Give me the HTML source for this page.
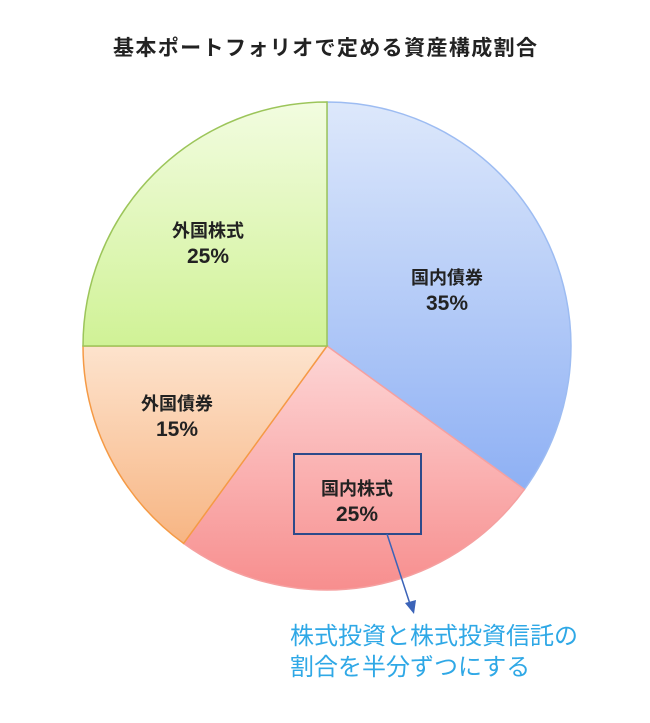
<!DOCTYPE html>
<html><head><meta charset="utf-8"><style>
body{margin:0;background:#fff;width:650px;height:718px;overflow:hidden}
</style></head><body>
<svg width="650" height="718" xmlns="http://www.w3.org/2000/svg" font-family="'Liberation Sans','Noto Sans CJK JP',sans-serif">
<defs>
<linearGradient id="gb" x1="0" y1="0" x2="0" y2="1"><stop offset="0" stop-color="#dde8fb"/><stop offset="1" stop-color="#8eb0f4"/></linearGradient>
<linearGradient id="gp" x1="0" y1="0" x2="0" y2="1"><stop offset="0" stop-color="#fdd6d6"/><stop offset="1" stop-color="#f78e8e"/></linearGradient>
<linearGradient id="go" x1="0" y1="0" x2="0" y2="1"><stop offset="0" stop-color="#fde3cd"/><stop offset="1" stop-color="#f7b583"/></linearGradient>
<linearGradient id="gg" x1="0" y1="0" x2="0" y2="1"><stop offset="0" stop-color="#f2fce0"/><stop offset="1" stop-color="#d0f296"/></linearGradient>
</defs>
<text x="325" y="55" text-anchor="middle" font-size="21" font-weight="bold" fill="#222" textLength="424">基本ポートフォリオで定める資産構成割合</text>
<path d="M327,346 L327,102 A244,244 0 0 1 524.4,489.4 Z" fill="url(#gb)" stroke="#9dbcf2" stroke-width="1.5"/>
<path d="M327,346 L524.4,489.4 A244,244 0 0 1 183.6,543.4 Z" fill="url(#gp)" stroke="#f5a0a0" stroke-width="1.5"/>
<path d="M327,346 L183.6,543.4 A244,244 0 0 1 83,346 Z" fill="url(#go)" stroke="#f59a45" stroke-width="1.5"/>
<path d="M327,346 L83,346 A244,244 0 0 1 327,102 Z" fill="url(#gg)" stroke="#9cc55a" stroke-width="1.5"/>
<g font-size="18" font-weight="bold" fill="#222" text-anchor="middle">
<text x="208" y="237">外国株式</text><text x="208" y="263" font-size="21">25%</text>
<text x="447" y="284">国内債券</text><text x="447" y="310" font-size="21">35%</text>
<text x="177" y="410">外国債券</text><text x="177" y="436" font-size="21">15%</text>
<text x="357" y="495">国内株式</text><text x="357" y="521" font-size="21">25%</text>
</g>
<rect x="294" y="454" width="127" height="80" fill="none" stroke="#2d4a8a" stroke-width="2"/>
<line x1="387" y1="534" x2="410" y2="604" stroke="#3b63b8" stroke-width="1.5"/>
<polygon points="405,603 416,600 414,614" fill="#3b63b8"/>
<g font-size="24" fill="#2fa8e6">
<text x="290" y="644">株式投資と株式投資信託の</text>
<text x="290" y="675">割合を半分ずつにする</text>
</g>
</svg>
</body></html>
